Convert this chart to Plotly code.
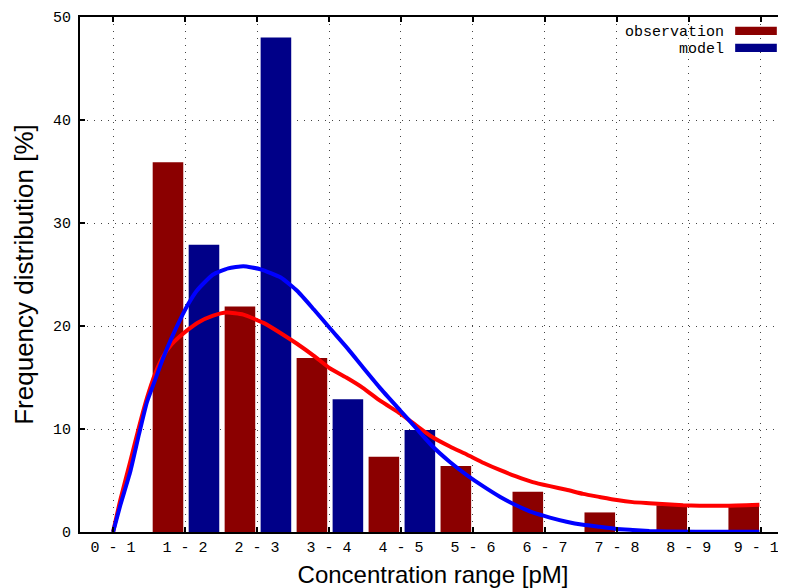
import plotly.graph_objects as go

categories = ["0 - 1", "1 - 2", "2 - 3", "3 - 4", "4 - 5", "5 - 6", "6 - 7", "7 - 8", "8 - 9", "9 - 10"]
observation = [0, 35.9, 21.9, 16.9, 7.3, 6.4, 3.9, 1.9, 2.6, 2.6]
model = [0, 27.9, 48.0, 12.9, 9.9, 0, 0, 0, 0, 0]

# fitted curves (x in category-index units)
obs_fit_x = [0, 0.1, 0.24, 0.36, 0.47, 0.58, 0.69, 0.81, 0.93, 1.05, 1.17, 1.39, 1.58, 1.81, 2.09,
             2.33, 2.55, 2.79, 3.01, 3.24, 3.47, 3.72, 3.99, 4.22, 4.44, 4.68, 4.92, 5.15, 5.38,
             5.6, 5.83, 6.07, 6.3, 6.53, 6.76, 7.0, 7.22, 7.45, 7.69, 7.92, 8.15, 8.5, 8.98]
obs_fit_y = [0, 3.1, 6.9, 10.2, 13.0, 15.3, 17.0, 18.2, 19.0, 19.7, 20.3, 21.0, 21.3, 21.1, 20.3,
             19.3, 18.3, 17.1, 15.9, 15.0, 14.0, 12.7, 11.5, 10.3, 9.2, 8.3, 7.5, 6.7, 6.0,
             5.4, 4.85, 4.45, 4.1, 3.7, 3.4, 3.1, 2.9, 2.8, 2.7, 2.6, 2.55, 2.55, 2.65]
model_fit_x = [0, 0.1, 0.24, 0.36, 0.47, 0.58, 0.69, 0.81, 0.93, 1.05, 1.16, 1.28, 1.39, 1.6, 1.81,
               2.05, 2.33, 2.56, 2.79, 3.01, 3.26, 3.47, 3.72, 3.99, 4.22, 4.44, 4.68, 4.92, 5.15,
               5.38, 5.6, 5.83, 6.07, 6.3, 6.53, 6.76, 7.0, 7.22, 7.45, 7.69, 8.5, 8.98]
model_fit_y = [0, 2.6, 5.9, 9.5, 12.6, 14.7, 16.8, 18.8, 20.6, 22.2, 23.4, 24.3, 25.0, 25.6, 25.8,
               25.5, 24.7, 23.4, 21.6, 19.8, 17.8, 16.0, 13.9, 11.8, 10.0, 8.3, 6.8, 5.5, 4.4,
               3.4, 2.6, 1.9, 1.4, 1.0, 0.7, 0.5, 0.3, 0.2, 0.1, 0.05, 0.02, 0.02]

idx = list(range(len(categories)))

fig = go.Figure()
fig.add_trace(go.Bar(x=idx, y=observation, width=0.425, offset=-0.45,
                     marker=dict(color="#8b0000", line=dict(width=0)), name="observation",
                     showlegend=False))
fig.add_trace(go.Bar(x=idx, y=model, width=0.425, offset=0.05,
                     marker=dict(color="#000088", line=dict(width=0)), name="model",
                     showlegend=False))
fig.add_trace(go.Scatter(x=obs_fit_x, y=obs_fit_y, mode="lines",
                         line=dict(color="#ff0000", width=4, shape="spline", smoothing=0.5),
                         showlegend=False))
fig.add_trace(go.Scatter(x=model_fit_x, y=model_fit_y, mode="lines",
                         line=dict(color="#0000ff", width=4, shape="spline", smoothing=0.5),
                         showlegend=False))

mono = dict(family="Liberation Mono", size=15, color="#000000")
xtitle_font = dict(family="Liberation Sans", size=24, color="#000000")
ytitle_font = dict(family="Liberation Sans", size=26, color="#000000")

# the page adds an 8px body margin, so the figure is 8px smaller than the window
fig.update_layout(
    width=778, height=580,
    margin=dict(l=72, r=0, t=9, b=56),
    paper_bgcolor="white", plot_bgcolor="white",
    barmode="overlay",
    xaxis=dict(range=[-0.46, 9.35], tickmode="array", tickvals=idx, ticktext=categories,
               tickfont=mono, ticks="inside", ticklen=5, tickwidth=2, tickcolor="black",
               showline=True, linecolor="black", linewidth=2, mirror="ticks",
               showgrid=True, gridcolor="#444444", gridwidth=1, griddash="1px,6px",
               zeroline=False, automargin=False, ticklabeloverflow="allow",
               title=dict(text="Concentration range [pM]", font=xtitle_font, standoff=11)),
    yaxis=dict(range=[0, 50], dtick=10, tickfont=mono, ticks="inside", ticklen=5, tickwidth=2,
               tickcolor="black", showline=True, linecolor="black", linewidth=2,
               showgrid=True, gridcolor="#444444", gridwidth=1, griddash="1px,6px",
               zeroline=False, ticklabelstandoff=4, automargin=False,
               title=dict(text="Frequency distribution [%]", font=ytitle_font, standoff=12)),
)

# custom legend (text on the left, swatch on the right)
legend_items = [("observation", "#8b0000", 0.973), ("model", "#000088", 0.940)]
for label, color, yc in legend_items:
    fig.add_annotation(x=0.915, y=yc - 0.004, xref="paper", yref="paper", text=label,
                       showarrow=False, xanchor="right", yanchor="middle", font=mono)
    fig.add_shape(type="rect", xref="paper", yref="paper", x0=0.928, x1=0.987,
                  y0=yc - 0.008, y1=yc + 0.008, fillcolor=color, line=dict(width=0))

fig.write_html("out.html")
